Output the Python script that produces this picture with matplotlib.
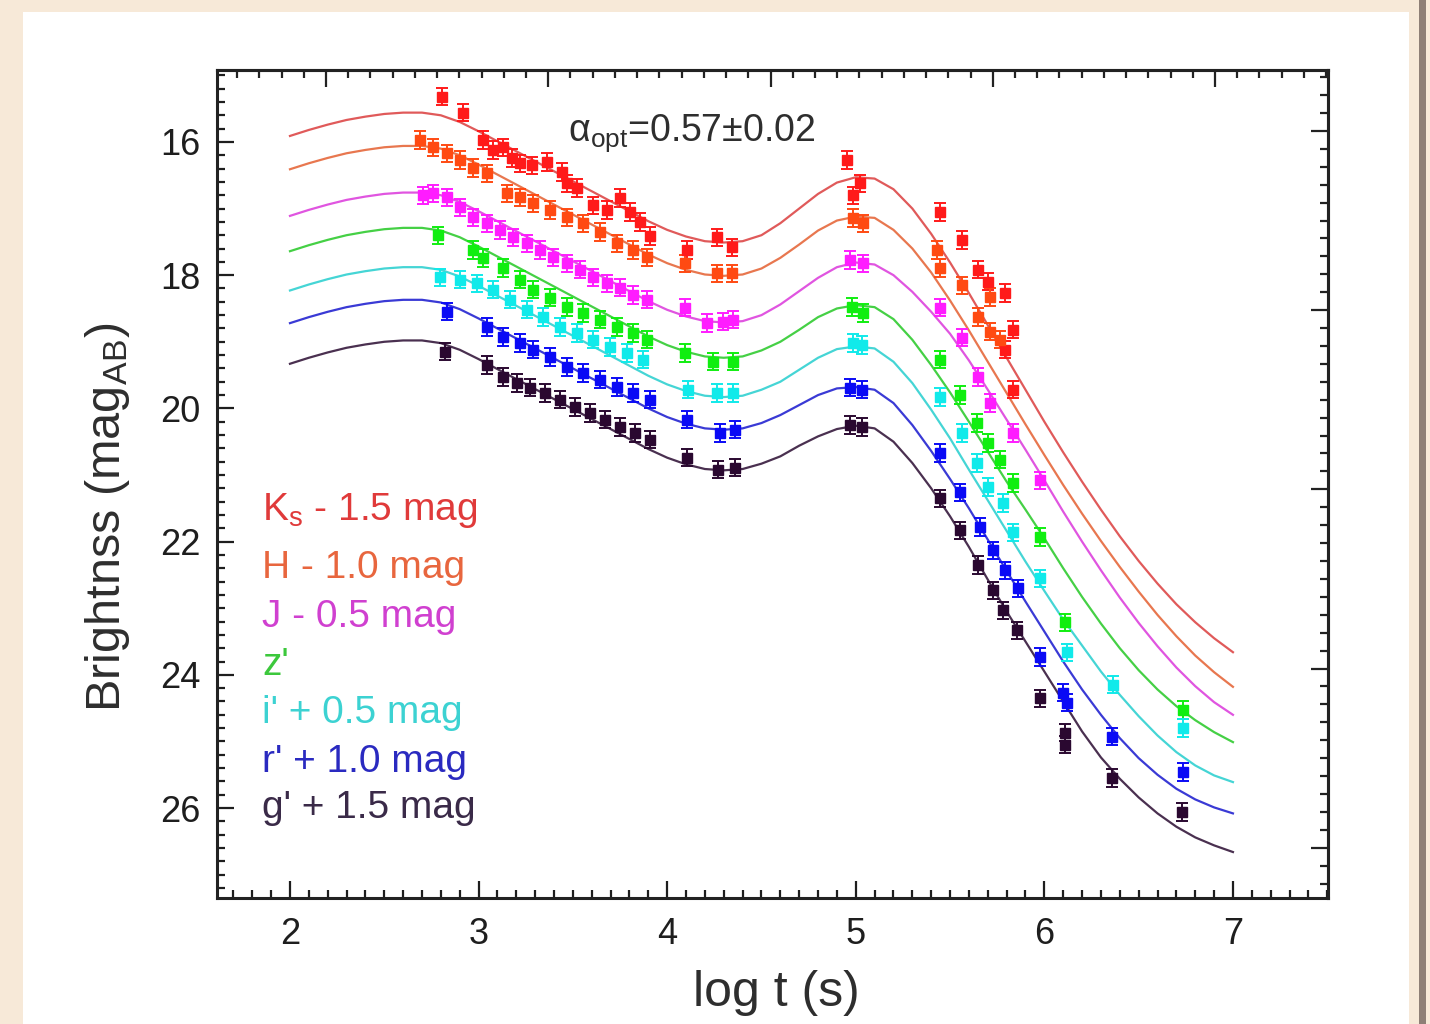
import matplotlib
matplotlib.use("Agg")
import matplotlib.pyplot as plt
from matplotlib.patches import Rectangle
from matplotlib.ticker import MultipleLocator

plt.rcParams['font.family'] = ['Liberation Sans', 'DejaVu Sans']
plt.rcParams['mathtext.fontset'] = 'custom'
plt.rcParams['mathtext.rm'] = 'Liberation Sans'
plt.rcParams['mathtext.it'] = 'Liberation Sans:italic'

# ---- model curves (log t, mag) ----
curve_t = [2.0, 2.1, 2.2, 2.3, 2.4, 2.5, 2.6, 2.7, 2.8, 2.9,
           3.0, 3.1, 3.2, 3.3, 3.4, 3.5, 3.6, 3.7, 3.8, 3.9,
           4.0, 4.1, 4.2, 4.3, 4.4, 4.5, 4.6, 4.7, 4.8, 4.9,
           5.0, 5.1, 5.2, 5.3, 5.4, 5.5, 5.6, 5.7, 5.8, 5.9,
           6.0, 6.1, 6.2, 6.3, 6.4, 6.5, 6.6, 6.7, 6.8, 6.9, 7.0]
curve_ks = [15.91, 15.82, 15.74, 15.67, 15.62, 15.58, 15.56, 15.56, 15.60, 15.70,
            15.84, 15.99, 16.14, 16.29, 16.44, 16.59, 16.74, 16.89, 17.04, 17.19,
            17.32, 17.42, 17.49, 17.51, 17.49, 17.40, 17.22, 17.00, 16.78, 16.61,
            16.53, 16.55, 16.71, 17.00, 17.38, 17.81, 18.27, 18.75, 19.24, 19.72,
            20.20, 20.66, 21.10, 21.52, 21.92, 22.29, 22.63, 22.94, 23.21, 23.45, 23.66]
curve_h = [16.41, 16.32, 16.24, 16.17, 16.12, 16.08, 16.06, 16.06, 16.10, 16.20,
           16.34, 16.49, 16.64, 16.79, 16.94, 17.09, 17.24, 17.39, 17.54, 17.69,
           17.82, 17.92, 17.99, 18.01, 17.99, 17.90, 17.74, 17.54, 17.33, 17.18,
           17.12, 17.14, 17.32, 17.60, 17.96, 18.38, 18.83, 19.30, 19.77, 20.24,
           20.70, 21.15, 21.58, 21.99, 22.38, 22.75, 23.10, 23.42, 23.71, 23.96, 24.18]
curve_j = [17.11, 17.02, 16.94, 16.87, 16.82, 16.78, 16.76, 16.76, 16.80, 16.90,
           17.04, 17.19, 17.34, 17.49, 17.64, 17.79, 17.94, 18.09, 18.24, 18.39,
           18.52, 18.62, 18.69, 18.71, 18.69, 18.60, 18.44, 18.24, 18.04, 17.88,
           17.81, 17.84, 18.00, 18.25, 18.55, 18.88, 19.28, 19.72, 20.17, 20.62,
           21.08, 21.55, 22.00, 22.43, 22.84, 23.22, 23.57, 23.89, 24.17, 24.41, 24.60]
curve_z = [17.64, 17.55, 17.47, 17.40, 17.35, 17.31, 17.29, 17.29, 17.33, 17.43,
           17.57, 17.72, 17.87, 18.02, 18.17, 18.32, 18.47, 18.62, 18.77, 18.92,
           19.05, 19.15, 19.22, 19.24, 19.22, 19.13, 19.00, 18.82, 18.63, 18.50,
           18.45, 18.48, 18.66, 18.97, 19.35, 19.76, 20.20, 20.65, 21.10, 21.52,
           21.95, 22.40, 22.83, 23.23, 23.60, 23.93, 24.22, 24.47, 24.68, 24.86, 25.01]
curve_i = [18.23, 18.14, 18.06, 17.99, 17.94, 17.90, 17.88, 17.88, 17.92, 18.02,
           18.16, 18.31, 18.46, 18.61, 18.76, 18.91, 19.06, 19.21, 19.36, 19.51,
           19.64, 19.74, 19.81, 19.83, 19.81, 19.72, 19.60, 19.42, 19.24, 19.11,
           19.07, 19.10, 19.30, 19.62, 20.02, 20.45, 20.92, 21.38, 21.84, 22.30,
           22.74, 23.17, 23.56, 23.95, 24.30, 24.62, 24.91, 25.16, 25.36, 25.51, 25.61]
curve_r = [18.72, 18.63, 18.55, 18.48, 18.43, 18.39, 18.37, 18.37, 18.41, 18.51,
           18.65, 18.80, 18.95, 19.10, 19.25, 19.40, 19.55, 19.70, 19.85, 20.00,
           20.13, 20.23, 20.30, 20.32, 20.30, 20.22, 20.10, 19.95, 19.80, 19.70,
           19.68, 19.72, 19.92, 20.25, 20.64, 21.06, 21.50, 21.97, 22.44, 22.90,
           23.35, 23.80, 24.22, 24.60, 24.95, 25.25, 25.50, 25.71, 25.87, 25.99, 26.08]
curve_g = [19.33, 19.24, 19.16, 19.09, 19.04, 19.00, 18.98, 18.98, 19.02, 19.12,
           19.26, 19.41, 19.56, 19.71, 19.86, 20.01, 20.16, 20.31, 20.46, 20.61,
           20.74, 20.84, 20.91, 20.93, 20.91, 20.83, 20.72, 20.56, 20.42, 20.31,
           20.26, 20.30, 20.50, 20.82, 21.20, 21.62, 22.08, 22.57, 23.05, 23.50,
           23.95, 24.40, 24.85, 25.24, 25.56, 25.84, 26.08, 26.28, 26.44, 26.56, 26.66]

# ---- photometry (log t, mag) ----
ks_t = [2.806, 2.917, 3.023, 3.076, 3.129, 3.177, 3.220, 3.283, 3.363, 3.442, 3.469, 3.522,
        3.607, 3.681, 3.750, 3.803, 3.856, 3.909, 4.105, 4.264, 4.343, 4.953, 5.022, 4.985,
        5.447, 5.563, 5.648, 5.701, 5.791, 5.833, 5.791, 5.833]
ks_m = [15.32, 15.56, 15.97, 16.12, 16.08, 16.24, 16.32, 16.35, 16.30, 16.45, 16.62, 16.69,
        16.95, 17.02, 16.84, 17.05, 17.20, 17.41, 17.62, 17.43, 17.58, 16.27, 16.62, 16.80,
        17.05, 17.47, 17.92, 18.10, 18.27, 18.82, 19.12, 19.72]
h_t = [2.689, 2.758, 2.832, 2.901, 2.970, 3.045, 3.151, 3.220, 3.288, 3.379, 3.469, 3.554,
       3.644, 3.734, 3.819, 3.893, 4.094, 4.264, 4.343, 4.985, 5.038,
       5.431, 5.447, 5.563, 5.648, 5.711, 5.711, 5.764]
h_m = [15.97, 16.08, 16.17, 16.27, 16.39, 16.47, 16.77, 16.83, 16.92, 17.02, 17.13, 17.22,
       17.35, 17.52, 17.62, 17.73, 17.82, 17.97, 17.97, 17.14, 17.22,
       17.62, 17.89, 18.15, 18.63, 18.33, 18.85, 18.97]
j_t = [2.705, 2.758, 2.832, 2.901, 2.970, 3.045, 3.113, 3.182, 3.257, 3.326, 3.394, 3.469,
       3.538, 3.607, 3.681, 3.750, 3.819, 3.893, 4.094, 4.211, 4.296, 4.349, 4.969, 5.038,
       5.447, 5.563, 5.648, 5.711, 5.833, 5.977]
j_m = [16.80, 16.77, 16.83, 16.98, 17.13, 17.22, 17.32, 17.43, 17.52, 17.62, 17.73, 17.82,
       17.92, 18.03, 18.12, 18.19, 18.30, 18.37, 18.49, 18.72, 18.70, 18.67, 17.77, 17.82,
       18.49, 18.94, 19.53, 19.92, 20.37, 21.08]
z_t = [2.785, 2.970, 3.023, 3.129, 3.220, 3.288, 3.379, 3.469, 3.554, 3.644, 3.734, 3.819,
       3.893, 4.094, 4.243, 4.349, 4.980, 5.038, 5.447, 5.552, 5.643, 5.701, 5.764, 5.833,
       5.977, 6.109, 6.735]
z_m = [17.40, 17.62, 17.74, 17.89, 18.07, 18.22, 18.34, 18.48, 18.57, 18.67, 18.78, 18.87,
       18.97, 19.17, 19.30, 19.30, 18.48, 18.57, 19.27, 19.80, 20.22, 20.52, 20.77, 21.12,
       21.93, 23.21, 24.53]
i_t = [2.795, 2.901, 2.991, 3.076, 3.166, 3.257, 3.341, 3.432, 3.522, 3.607, 3.697, 3.787,
       3.872, 4.110, 4.264, 4.349, 4.985, 5.032, 5.447, 5.563, 5.643, 5.701, 5.780, 5.833,
       5.977, 6.119, 6.364, 6.735]
i_m = [18.03, 18.07, 18.12, 18.22, 18.37, 18.52, 18.63, 18.78, 18.87, 18.97, 19.08, 19.17,
       19.27, 19.72, 19.77, 19.77, 19.02, 19.05, 19.83, 20.37, 20.82, 21.18, 21.42, 21.86,
       22.55, 23.66, 24.15, 24.80]
r_t = [2.832, 3.045, 3.129, 3.220, 3.288, 3.379, 3.469, 3.554, 3.644, 3.734, 3.819, 3.909,
       4.105, 4.280, 4.359, 4.969, 5.032, 5.447, 5.552, 5.658, 5.727, 5.791, 5.860, 5.977,
       6.099, 6.119, 6.358, 6.735]
r_m = [18.55, 18.78, 18.93, 19.02, 19.12, 19.23, 19.38, 19.47, 19.57, 19.68, 19.77, 19.87,
       20.17, 20.37, 20.32, 19.69, 19.72, 20.67, 21.26, 21.78, 22.13, 22.43, 22.70, 23.73,
       24.27, 24.42, 24.93, 25.46]
g_t = [2.822, 3.045, 3.129, 3.204, 3.273, 3.352, 3.432, 3.511, 3.591, 3.670, 3.750, 3.830,
       3.909, 4.105, 4.269, 4.359, 4.969, 5.032, 5.447, 5.552, 5.648, 5.727, 5.780, 5.855,
       5.977, 6.109, 6.109, 6.358, 6.730]
g_m = [19.15, 19.35, 19.53, 19.62, 19.69, 19.77, 19.87, 19.98, 20.07, 20.17, 20.28, 20.37,
       20.47, 20.74, 20.92, 20.89, 20.25, 20.28, 21.35, 21.83, 22.35, 22.73, 23.03, 23.33,
       24.35, 24.87, 25.05, 25.55, 26.06]

bands = [
    ('K$_{\\rm s}$ - 1.5 mag', ks_t, ks_m, curve_ks, '#ff1a1a', '#e05a5a', '#e03a3a'),
    ('H - 1.0 mag', h_t, h_m, curve_h, '#ff4a12', '#e8774f', '#e8663e'),
    ('J - 0.5 mag', j_t, j_m, curve_j, '#ff1cff', '#e055e0', '#d040d0'),
    ("z'", z_t, z_m, curve_z, '#10ee10', '#45d045', '#3cc83c'),
    ("i' + 0.5 mag", i_t, i_m, curve_i, '#10eaea', '#45d5d5', '#3cd2d2'),
    ("r' + 1.0 mag", r_t, r_m, curve_r, '#0a0af5', '#3a3ad5', '#2a2ac0'),
    ("g' + 1.5 mag", g_t, g_m, curve_g, '#2a0830', '#4a3050', '#3a2a48'),
]

fig = plt.figure(figsize=(14.3, 10.24), dpi=100)
fig.patch.set_facecolor('#f7e9d8')
fig.patches.append(Rectangle((23 / 1430, 0), (1409 - 23) / 1430, 1 - 12 / 1024,
                             transform=fig.transFigure, facecolor='white',
                             edgecolor='none', zorder=-10))
fig.patches.append(Rectangle((1419 / 1430, 0), 7 / 1430, 1,
                             transform=fig.transFigure, facecolor='#8e7f76',
                             edgecolor='none', zorder=-10))

ax = fig.add_axes([217 / 1430, 1 - 898 / 1024, (1328 - 217) / 1430, (898 - 70) / 1024])
ax.set_facecolor('white')

for label, t, m, cm, mc, lc, tc in bands:
    ax.plot(curve_t, cm, color=lc, lw=1.6, zorder=2)
    ax.errorbar(t, m, yerr=0.13, fmt='s', ms=7, color=mc, ecolor=mc,
                elinewidth=1.4, capsize=4.5, capthick=1.4, zorder=3)

ax.set_xlim(1.613, 7.504)
ax.set_ylim(27.35, 14.92)
ax.xaxis.set_major_locator(MultipleLocator(1))
ax.xaxis.set_minor_locator(MultipleLocator(0.1))
ax.yaxis.set_major_locator(MultipleLocator(2))
ax.yaxis.set_minor_locator(MultipleLocator(0.2))
ax.tick_params(which='both', direction='in', width=1.6, colors='#1e1e1e',
               labelsize=26, top=False, right=False)
ax.tick_params(which='major', length=12)
ax.tick_params(which='minor', length=6)
ax.tick_params(axis='x', pad=14)
ax.tick_params(axis='y', pad=12)
for s in ax.spines.values():
    s.set_linewidth(2.2)
    s.set_color('#222222')

# top / right frame ticks on their own spacing
top = ax.secondary_xaxis('top', functions=(lambda x: (x - 2.191) / 1.1785,
                                           lambda u: u * 1.1785 + 2.191))
top.xaxis.set_major_locator(MultipleLocator(1))
top.xaxis.set_minor_locator(MultipleLocator(0.1))
top.tick_params(which='both', direction='in', width=1.6, colors='#222222', labeltop=False)
top.tick_params(which='major', length=12)
top.tick_params(which='minor', length=6)
top.spines['top'].set_linewidth(2.2)

right = ax.secondary_yaxis('right', functions=(lambda y: (y - 15.835) / 2.69,
                                               lambda v: v * 2.69 + 15.835))
right.yaxis.set_major_locator(MultipleLocator(1))
right.yaxis.set_minor_locator(MultipleLocator(0.1))
right.tick_params(which='both', direction='in', width=1.6, colors='#222222', labelright=False)
right.tick_params(which='major', length=12)
right.tick_params(which='minor', length=6)
right.spines['right'].set_linewidth(2.2)

fig.text(568 / 1430, 1 - 133 / 1024, 'α$_{\\rm opt}$=0.57±0.02',
         fontsize=27, color='#2e2e2e', va='center', ha='left')

legend_y = [510, 568, 617, 665, 713, 762, 808]
for (label, t, m, cm, mc, lc, tc), yy in zip(bands, legend_y):
    fig.text(262 / 1430, 1 - yy / 1024, label, fontsize=28, color=tc,
             va='center', ha='left')

fig.text(108 / 1430, 1 - 517 / 1024, r'Brightnss (mag$_{\rm AB}$)', rotation=90,
         fontsize=35, color='#2e2e2e', va='center', ha='center')
fig.text(776 / 1430, 1 - 993 / 1024, 'log t (s)', fontsize=36, color='#2e2e2e',
         va='center', ha='center')

fig.savefig('out.png', dpi=100, facecolor=fig.get_facecolor())
